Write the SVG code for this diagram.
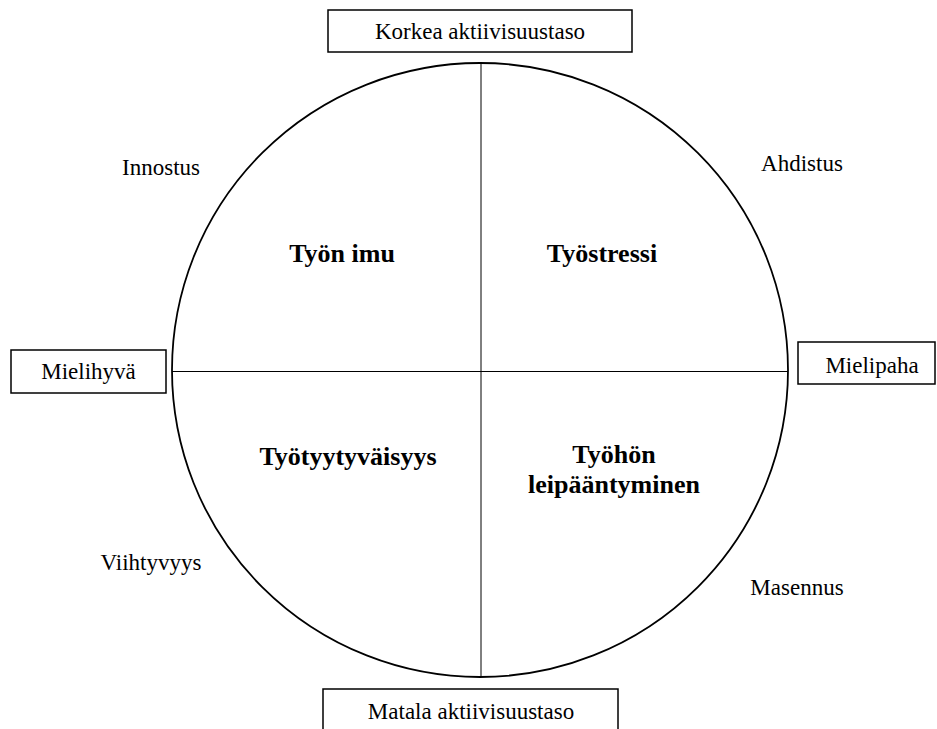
<svg xmlns="http://www.w3.org/2000/svg" width="937" height="729" viewBox="0 0 937 729">
<style>
.box{fill:#fff;stroke:#000;stroke-width:1.5}
text{font-family:'Liberation Serif','Tinos','DejaVu Serif',serif;fill:#000;text-anchor:middle}
.t{font-size:23px}
.b{font-size:26px;font-weight:bold}
</style>
<rect width="937" height="729" fill="#fff"/>
<g id="circle">
<ellipse cx="480" cy="370" rx="308" ry="307" fill="none" stroke="#000" stroke-width="1.8"/>
</g>
<g id="connectors">
<line x1="481" y1="63" x2="481" y2="677" stroke="#000" stroke-width="1"/>
<line x1="172" y1="371.5" x2="788" y2="371.5" stroke="#000" stroke-width="1"/>
</g>
<g id="korkea"><rect class="box" x="328" y="10" width="304" height="42"/><text class="t" x="480" y="39">Korkea aktiivisuustaso</text></g>
<g id="matala"><rect class="box" x="323" y="689" width="295" height="50"/><text class="t" x="471" y="719">Matala aktiivisuustaso</text></g>
<g id="mielihyva"><rect class="box" x="11" y="350" width="155" height="43"/><text class="t" x="88.5" y="379">Mielihyvä</text></g>
<g id="mielipaha"><rect class="box" x="798" y="342" width="137" height="42"/><text class="t" x="872" y="372.5">Mielipaha</text></g>
<g id="innostus"><text class="t" x="161" y="175">Innostus</text></g>
<g id="ahdistus"><text class="t" x="802" y="171">Ahdistus</text></g>
<g id="viihtyvyys"><text class="t" x="151" y="570">Viihtyvyys</text></g>
<g id="masennus"><text class="t" x="797" y="595">Masennus</text></g>
<g id="tyon-imu"><text class="b" x="342" y="262">Työn imu</text></g>
<g id="tyostressi"><text class="b" x="602" y="262">Työstressi</text></g>
<g id="tyotyytyvaisyys"><text class="b" x="348" y="465">Työtyytyväisyys</text></g>
<g id="leipaantyminen"><text class="b" x="614" y="463">Työhön</text><text class="b" x="614" y="493">leipääntyminen</text></g>
</svg>
